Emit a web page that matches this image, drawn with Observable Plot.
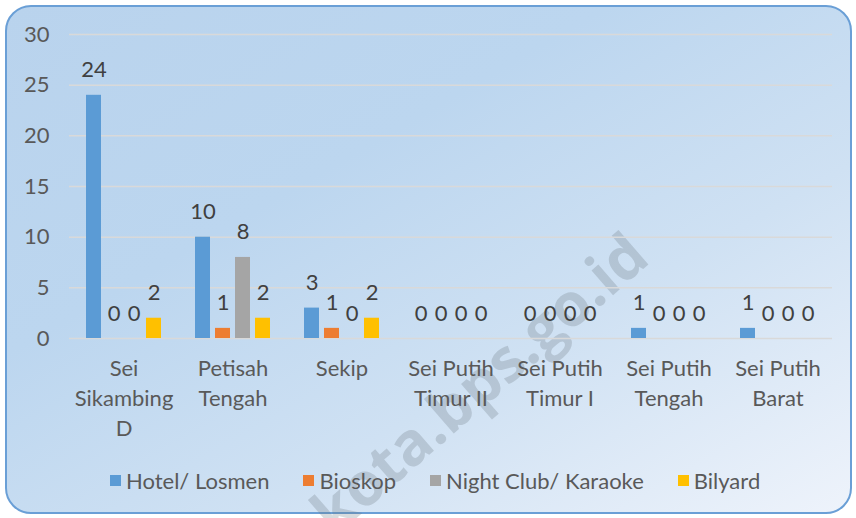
<!DOCTYPE html>
<html>
<head>
<meta charset="utf-8">
<script src="https://cdn.jsdelivr.net/npm/d3@7"></script>
<script src="https://cdn.jsdelivr.net/npm/@observablehq/plot@0.6"></script>
<style>
  html, body { margin: 0; padding: 0; background: #ffffff; }
  #wrap { position: relative; width: 856px; height: 518px; overflow: hidden; font-family: Lato, "Open Sans", sans-serif; }
  #bg { position: absolute; left: 5px; top: 5px; width: 843px; height: 505px; border: 2px solid #6a9fd6; border-radius: 26px;
        background: linear-gradient(150deg, #b9d3ed 0%, #bcd6ef 35%, #cfe1f3 65%, #eef3fb 100%); }
  #chart { position: absolute; left: 0; top: 0; }
  #legend { position: absolute; left: 110px; top: 467px; display: flex; align-items: center; font-size: 22px; color: #595959; }
  .item { display: flex; align-items: center; margin-right: 34px; }
  .sw { width: 11px; height: 11px; margin-right: 5px; }
  #wm { position: absolute; left: 478px; top: 382px; transform: translate(-50%, -50%) rotate(-41deg); font-size: 60px; font-weight: bold;
        color: rgba(105, 115, 125, 0.26); white-space: nowrap; pointer-events: none; font-family: "Open Sans", sans-serif; }
</style>
</head>
<body>
<div id="wrap">
  <div id="bg"></div>
  <div id="wm">kota.bps.go.id</div>
  <div id="chart"></div>
  <div id="legend"></div>
</div>
<script>
const categories = ["Sei Sikambing D", "Petisah Tengah", "Sekip", "Sei Putih Timur II", "Sei Putih Timur I", "Sei Putih Tengah", "Sei Putih Barat"];
const categoryLabels = ["Sei\nSikambing\nD", "Petisah\nTengah", "Sekip", "Sei Putih\nTimur II", "Sei Putih\nTimur I", "Sei Putih\nTengah", "Sei Putih\nBarat"];
const series = ["Hotel/ Losmen", "Bioskop", "Night Club/ Karaoke", "Bilyard"];
const hotel = [24, 10, 3, 0, 0, 1, 1];
const bioskop = [0, 1, 1, 0, 0, 0, 0];
const nightClub = [0, 8, 0, 0, 0, 0, 0];
const bilyard = [2, 2, 2, 0, 0, 0, 0];
const yTicks = [0, 5, 10, 15, 20, 25, 30];
const colors = ["#5b9bd5", "#ed7d31", "#a5a5a5", "#ffc000"];

const valuesBySeries = [hotel, bioskop, nightClub, bilyard];
const data = [];
categories.forEach((c, i) => {
  series.forEach((s, j) => data.push({cat: c, series: s, value: valuesBySeries[j][i]}));
});
const labelOf = Object.fromEntries(categories.map((c, i) => [c, categoryLabels[i]]));

const chart = Plot.plot({
  width: 856,
  height: 450,
  marginLeft: 68,
  marginRight: 24,
  marginTop: 34,
  marginBottom: 112,
  style: {background: "transparent", fontFamily: "Lato, 'Open Sans', sans-serif", fontSize: "22px", color: "#595959"},
  fx: {domain: categories, padding: 0, label: null},
  x: {domain: series, paddingInner: 0.25, paddingOuter: 0.85, axis: null},
  y: {domain: [0, 30], label: null},
  color: {domain: series, range: colors},
  marks: [
    Plot.gridY(yTicks, {stroke: "#d9d9d9", strokeOpacity: 1, strokeWidth: 1.5}),
    Plot.axisY(yTicks, {tickSize: 0, tickPadding: 20, fill: "#595959", fontSize: 22, label: null}),
    Plot.axisFx({anchor: "bottom", tickSize: 0, tickPadding: 16, fill: "#595959", fontSize: 22, lineHeight: 1.37,
                 label: null, tickFormat: d => labelOf[d]}),
    Plot.barY(data, {fx: "cat", x: "series", y: "value", fill: "series"}),
    Plot.text(data, {fx: "cat", x: "series", y: "value", text: d => String(d.value), lineAnchor: "bottom", dy: -18,
                     fill: "#404040", fontSize: 22})
  ]
});
document.getElementById("chart").appendChild(chart);

const legend = document.getElementById("legend");
series.forEach((s, i) => {
  const item = document.createElement("div");
  item.className = "item";
  const sw = document.createElement("span");
  sw.className = "sw";
  sw.style.background = colors[i];
  const t = document.createElement("span");
  t.textContent = s;
  item.appendChild(sw);
  item.appendChild(t);
  legend.appendChild(item);
});
</script>
</body>
</html>
